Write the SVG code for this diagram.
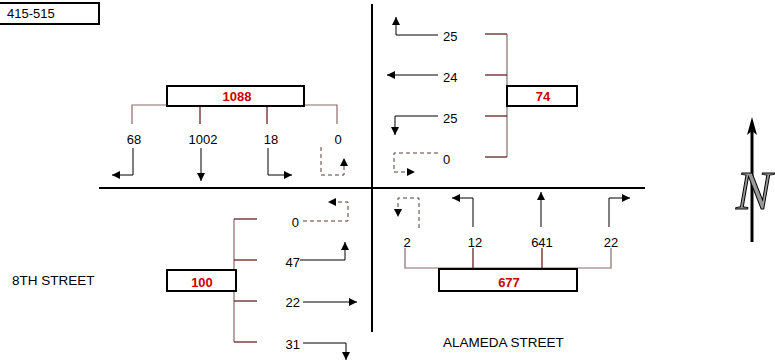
<svg xmlns="http://www.w3.org/2000/svg" width="775" height="362" viewBox="0 0 775 362">
<defs>
<marker id="ah" viewBox="0 0 10 10" refX="10" refY="5" markerWidth="8" markerHeight="8" markerUnits="userSpaceOnUse" orient="auto"><path d="M0,0 L10,5 L0,10 z" fill="#000"/></marker>
<style>
text{font-family:"Liberation Sans",Arial,sans-serif;font-size:13px;fill:#000}
.tot{font-weight:bold;fill:#cc0000;text-anchor:middle}
.box{fill:#fff;stroke:#000;stroke-width:2}
.street{stroke:#000;stroke-width:2;fill:none}
.spine{stroke:#8a6a6a;stroke-width:1.2;fill:none}
.tick{stroke:#5c1010;stroke-width:1.2;fill:none}
.arr{stroke:#000;stroke-width:1;fill:none;marker-end:url(#ah)}
.dash{stroke:#5a3a3a;stroke-width:1;fill:none;stroke-dasharray:4 3;marker-end:url(#ah)}
.c{text-anchor:middle}
</style>
</defs>
<rect width="775" height="362" fill="#fff"/>

<g id="streets">
<line class="street" x1="99" y1="188" x2="645" y2="188"/>
<line class="street" x1="372" y1="4" x2="372" y2="332"/>
</g>

<g id="label-id">
<rect class="box" x="-2" y="3" width="101" height="21"/>
<text x="7" y="18">415-515</text>
</g>

<g id="north-approach">
<polyline class="spine" points="132,124 132,105 337,105 337,124"/>
<line class="tick" x1="200" y1="105" x2="200" y2="124"/>
<line class="tick" x1="267" y1="105" x2="267" y2="124"/>
<rect class="box" x="167" y="86" width="137" height="20"/>
<text class="tot" x="237" y="101">1088</text>
<text class="c" x="134" y="144">68</text>
<text class="c" x="203" y="144">1002</text>
<text class="c" x="271" y="144">18</text>
<text class="c" x="338" y="144">0</text>
</g>

<g id="east-approach">
<line class="spine" x1="507" y1="34" x2="507" y2="157"/>
<line class="tick" x1="485" y1="34" x2="507" y2="34"/>
<line class="tick" x1="485" y1="75" x2="507" y2="75"/>
<line class="tick" x1="485" y1="116" x2="507" y2="116"/>
<line class="tick" x1="485" y1="157" x2="507" y2="157"/>
<rect class="box" x="507" y="86" width="70" height="20"/>
<text class="tot" x="543" y="101">74</text>
<text x="443" y="41">25</text>
<text x="443" y="82">24</text>
<text x="443" y="123">25</text>
<text x="443" y="164">0</text>
</g>

<g id="west-approach">
<line class="spine" x1="234" y1="219" x2="234" y2="342"/>
<line class="tick" x1="234" y1="219" x2="257" y2="219"/>
<line class="tick" x1="234" y1="260" x2="257" y2="260"/>
<line class="tick" x1="234" y1="301" x2="257" y2="301"/>
<line class="tick" x1="234" y1="342" x2="257" y2="342"/>
<rect class="box" x="167" y="270" width="69" height="21"/>
<text class="tot" x="202" y="287">100</text>
<text x="299" y="227" text-anchor="end">0</text>
<text x="300" y="267" text-anchor="end">47</text>
<text x="300" y="307" text-anchor="end">22</text>
<text x="300" y="349" text-anchor="end">31</text>
<text x="12" y="285" style="font-size:13.5px">8TH STREET</text>
</g>

<g id="south-approach">
<polyline class="spine" points="405,248 405,268 611,268 611,248"/>
<line class="tick" x1="473" y1="248" x2="473" y2="268"/>
<line class="tick" x1="542" y1="248" x2="542" y2="268"/>
<rect class="box" x="439" y="269" width="138" height="22"/>
<text class="tot" x="509" y="287">677</text>
<text class="c" x="407" y="247">2</text>
<text class="c" x="475" y="247">12</text>
<text class="c" x="542" y="247">641</text>
<text class="c" x="611" y="247">22</text>
<text x="443" y="347" style="font-size:13.5px">ALAMEDA STREET</text>
</g>

<g id="north-arrow">
<line x1="752" y1="242" x2="752" y2="130" stroke="#000" stroke-width="3"/>
<path d="M752,117 L757,135 L752,131 L747,135 z" fill="#000"/>
<text x="754" y="209" text-anchor="middle" style="font-family:'Liberation Serif',serif;font-style:italic;font-size:54px;fill:#999;stroke:#000;stroke-width:1">N</text>
</g>

<g id="connectors">
<polyline class="arr" points="133,148 133,175 112,175"/>
<polyline class="arr" points="201,148 201,181"/>
<polyline class="arr" points="268,148 268,175 292,175"/>
<polyline class="dash" points="321,147 321,175 344,175 344,158"/>

<polyline class="arr" points="438,35 396,35 396,17"/>
<polyline class="arr" points="438,75 387,75"/>
<polyline class="arr" points="438,116 395,116 395,135"/>
<polyline class="dash" points="438,153 394,153 394,172 415,172"/>

<polyline class="dash" points="303,221 348,221 348,202 328,202"/>
<polyline class="arr" points="300,260 345,260 345,242"/>
<polyline class="arr" points="303,302 357,302"/>
<polyline class="arr" points="303,343 346,343 346,360"/>

<polyline class="dash" points="419,228 419,198 398,198 398,217"/>
<polyline class="arr" points="473,227 473,198 452,198"/>
<polyline class="arr" points="541,227 541,192"/>
<polyline class="arr" points="609,227 609,198 630,198"/>
</g>
</svg>
